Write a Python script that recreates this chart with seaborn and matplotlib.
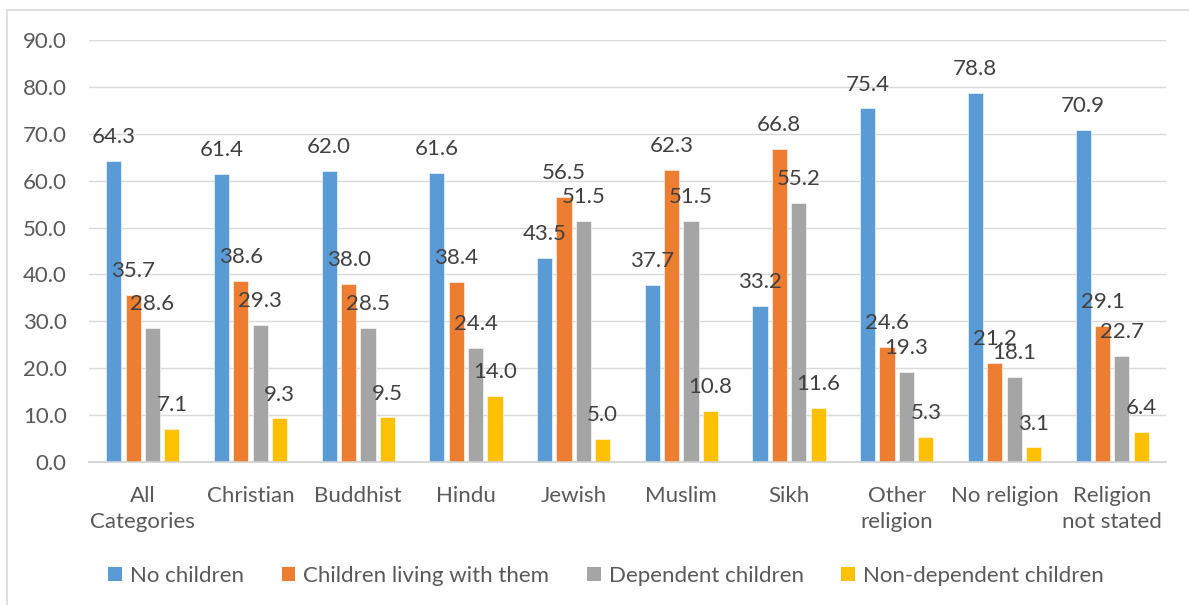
import matplotlib
matplotlib.use("Agg")
import matplotlib.pyplot as plt
from matplotlib.patches import Patch
from matplotlib.lines import Line2D
import seaborn as sns
import pandas as pd

# Share of people by religion and presence of children (%)
categories = ["All\nCategories", "Christian", "Buddhist", "Hindu", "Jewish",
              "Muslim", "Sikh", "Other\nreligion", "No religion",
              "Religion\nnot stated"]
series = ["No children", "Children living with them",
          "Dependent children", "Non-dependent children"]
no_children = [64.3, 61.4, 62.0, 61.6, 43.5, 37.7, 33.2, 75.4, 78.8, 70.9]
children_living = [35.7, 38.6, 38.0, 38.4, 56.5, 62.3, 66.8, 24.6, 21.2, 29.1]
dependent = [28.6, 29.3, 28.5, 24.4, 51.5, 51.5, 55.2, 19.3, 18.1, 22.7]
non_dependent = [7.1, 9.3, 9.5, 14.0, 5.0, 10.8, 11.6, 5.3, 3.1, 6.4]
colors = ["#5B9BD5", "#ED7D31", "#A5A5A5", "#FFC000"]

rows = []
for name, vals in zip(series, [no_children, children_living, dependent, non_dependent]):
    for cat, v in zip(categories, vals):
        rows.append({"category": cat, "series": name, "value": v})
df = pd.DataFrame(rows)

sns.set_style("white")
plt.rcParams["font.family"] = ["Lato", "DejaVu Sans"]

fig = plt.figure(figsize=(11.89, 6.05), dpi=100)
ax = fig.add_axes([89 / 1189, 1 - 462 / 605, (1166 - 89) / 1189, (462 - 40) / 605])

sns.barplot(data=df, x="category", y="value", hue="series", order=categories,
            hue_order=series, palette=colors, saturation=1, width=0.72, gap=0.22,
            edgecolor="white", linewidth=0.4, ax=ax, legend=False, errorbar=None)

for cont in ax.containers:
    ax.bar_label(cont, fmt="%.1f", padding=10, fontsize=16, color="#404040")

ax.set_ylim(0, 90)
ax.set_yticks(range(0, 91, 10))
ax.set_yticklabels([f"{v:.1f}" for v in range(0, 91, 10)])
ax.set_xlim(-0.5, len(categories) - 0.5)
ax.set_xlabel("")
ax.set_ylabel("")
ax.grid(axis="y", color="#D9D9D9", linewidth=1.0)
ax.set_axisbelow(True)
for side in ["top", "right", "left"]:
    ax.spines[side].set_visible(False)
ax.spines["bottom"].set_color("#D0D0D0")
ax.spines["bottom"].set_linewidth(1.2)
ax.tick_params(axis="y", length=0, pad=16, labelsize=16, labelcolor="#595959")
ax.tick_params(axis="x", length=0, pad=17, labelsize=16, labelcolor="#595959")
for lbl in ax.get_xticklabels():
    lbl.set_linespacing(1.4)

handles = [Patch(facecolor=c, edgecolor="none", label=s) for c, s in zip(colors, series)]
fig.legend(handles=handles, loc="center", bbox_to_anchor=(606 / 1189, 1 - 576 / 605),
           ncol=4, frameon=False, fontsize=16, labelcolor="#595959",
           handlelength=0.62, handleheight=0.62, handletextpad=0.35,
           columnspacing=1.7)

# chart area border
fig.add_artist(Line2D([7 / 1189, 7 / 1189], [0, 1 - 10 / 605], transform=fig.transFigure,
                      color="#D9D9D9", linewidth=1.2))
fig.add_artist(Line2D([7 / 1189, 1], [1 - 10 / 605, 1 - 10 / 605], transform=fig.transFigure,
                      color="#D9D9D9", linewidth=1.2))

fig.savefig("out.png", dpi=100, facecolor="white")
